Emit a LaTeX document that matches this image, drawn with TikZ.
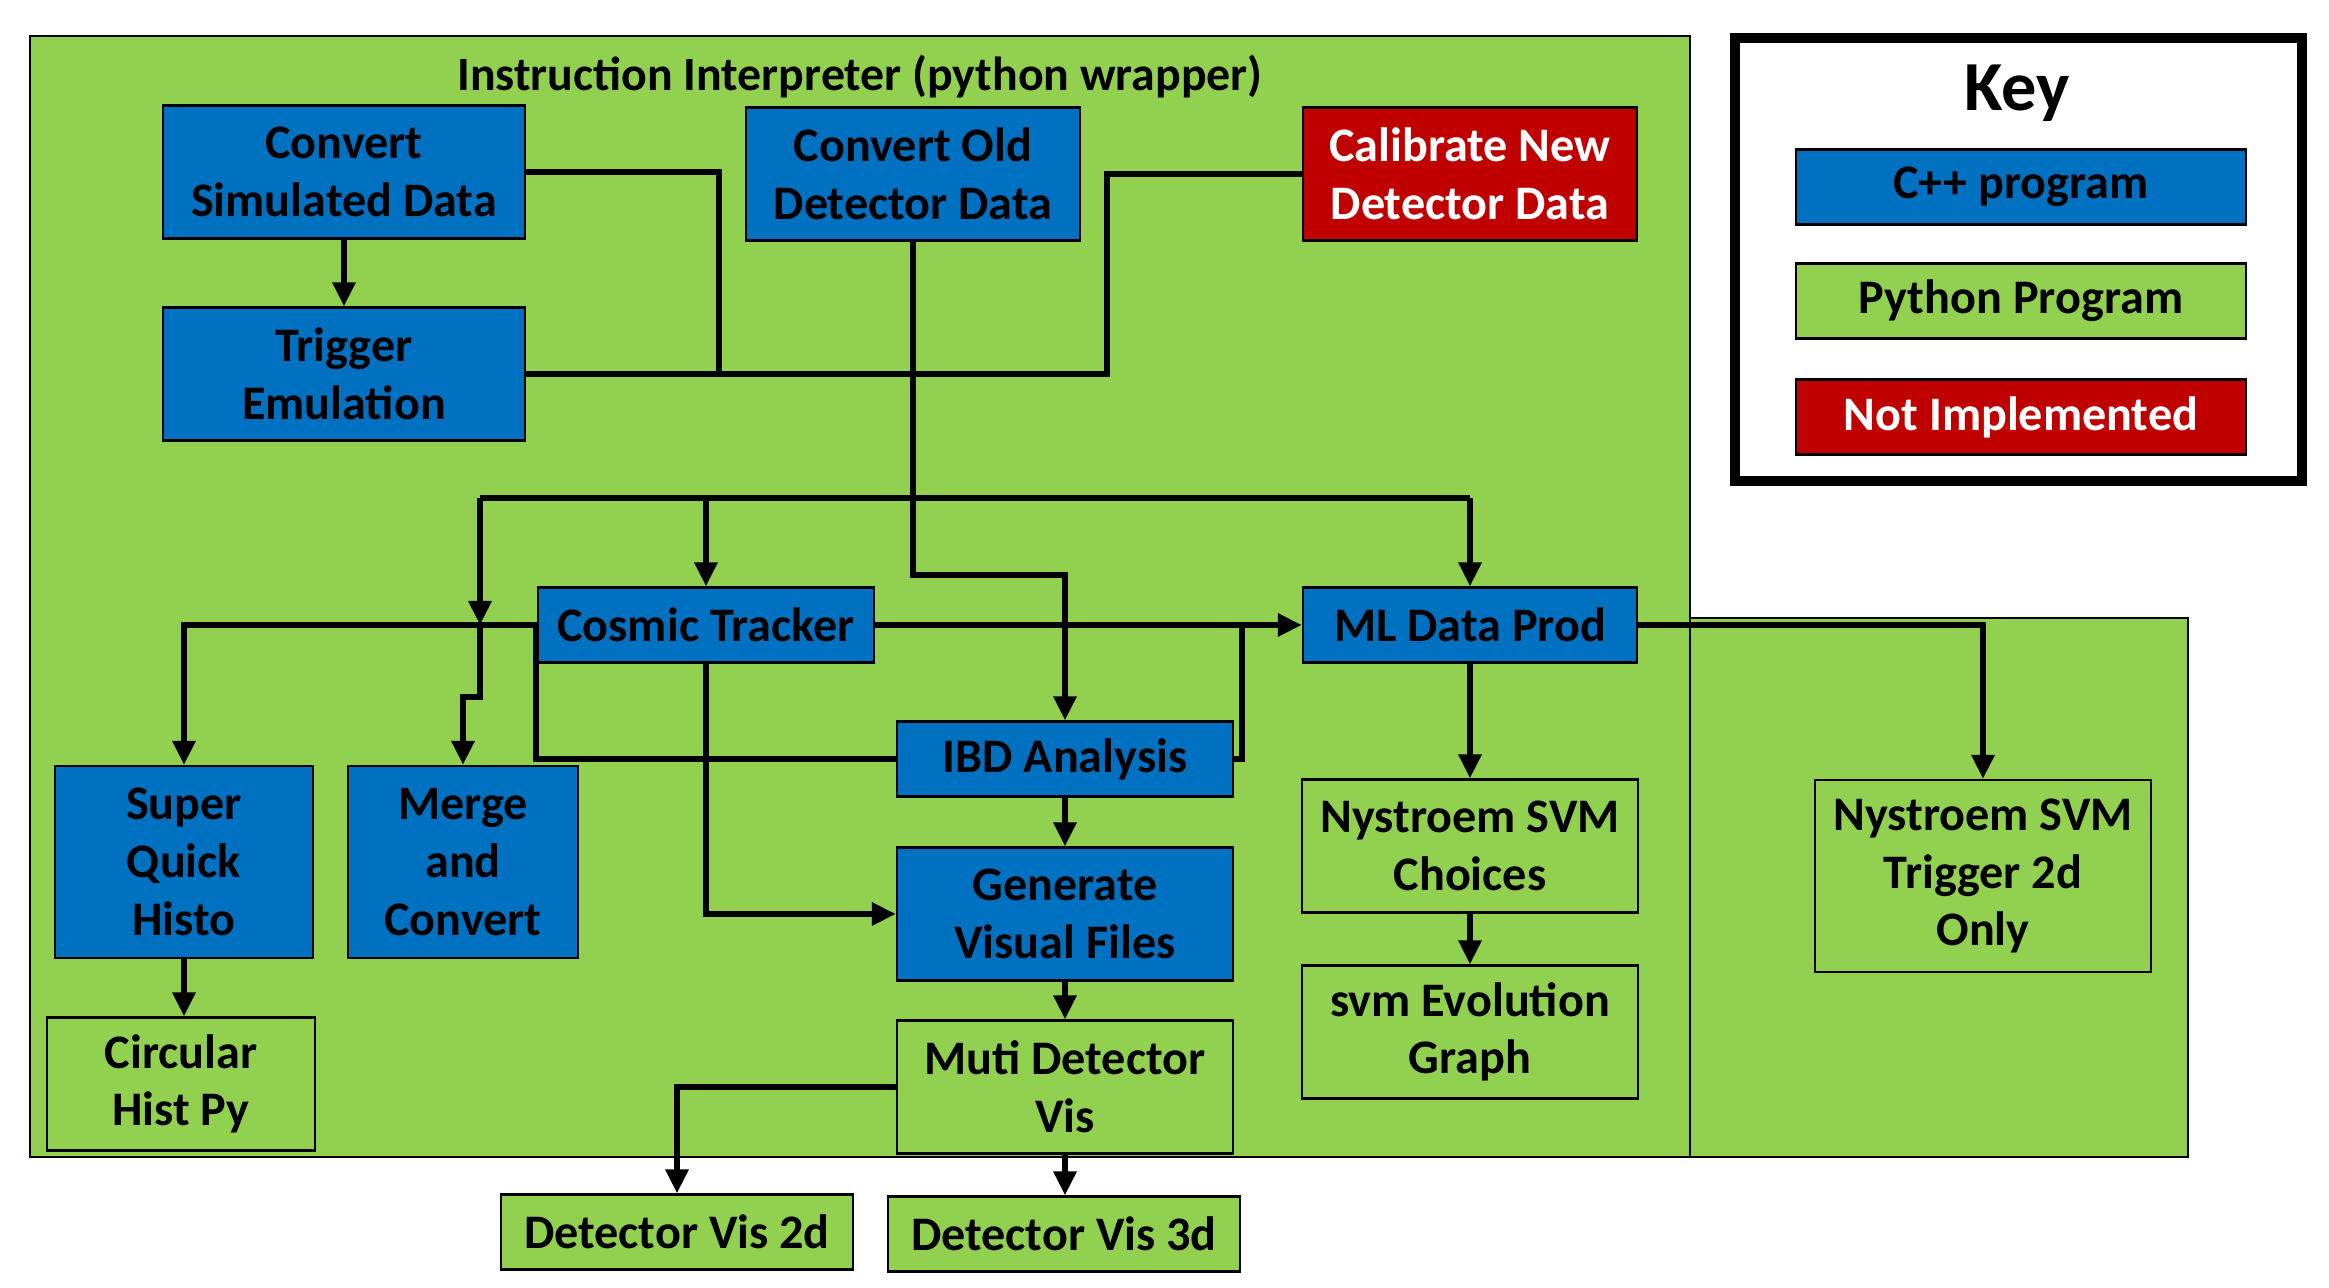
\documentclass[tikz,border=0pt]{standalone}
\usepackage{fontspec}
\setmainfont{Carlito}
\usetikzlibrary{arrows.meta}

\definecolor{cppblue}{HTML}{0070C0}
\definecolor{pygreen}{HTML}{92D050}
\definecolor{todored}{HTML}{C00000}

\newcommand{\BoxWidth}{3.36cm}
\newcommand{\BoxHeight}{1.33cm}
\newcommand{\SlimHeight}{0.75cm}
\newcommand{\TallHeight}{1.92cm}

\tikzset{
  prog/.style={draw=black, line width=0.6pt, align=center, inner sep=0pt,
    font=\fontsize{13.7}{16.4}\selectfont\bfseries,
    minimum width=\BoxWidth, minimum height=\BoxHeight},
  cpp/.style={prog, fill=cppblue},
  py/.style={prog, fill=pygreen},
  todo/.style={prog, fill=todored, text=white},
  wire/.style={line width=1.8pt},
  flow/.style={wire, -{Triangle[length=0.24cm,width=0.22cm]}},
}

\begin{document}
\begin{tikzpicture}[x=0.01cm, y=-0.01cm]
  \useasboundingbox (0,0) rectangle (2329,1288);

  % backgrounds
  \draw[fill=pygreen, line width=0.7pt] (1690,618) rectangle (2188,1157);
  \draw[fill=pygreen, line width=0.7pt] (30,36) rectangle (1690,1157);
  \node[font=\fontsize{13.6}{16}\selectfont\bfseries] (title) at (860,77) {Instruction Interpreter (python wrapper)};

  % key
  \draw[line width=2.9pt, fill=white] (1735,38) rectangle (2302,481);
  \node[font=\fontsize{20}{24}\selectfont\bfseries] (keytitle) at (2017,93) {Key};
  \node[cpp, minimum width=4.5cm, minimum height=\SlimHeight] (keycpp) at (2021,187) {C++ program};
  \node[py, minimum width=4.5cm, minimum height=\SlimHeight] (keypy) at (2021,301) {Python Program};
  \node[todo, minimum width=4.5cm, minimum height=\SlimHeight] (keytodo) at (2021,417) {Not Implemented};

  % programs
  \node[cpp, minimum width=3.61cm] (convsim) at (344,172) {Convert\\Simulated Data};
  \node[cpp, minimum width=3.61cm] (trigger) at (344,374) {Trigger\\Emulation};
  \node[cpp, minimum width=3.34cm] (convold) at (913,174) {Convert Old\\Detector Data};
  \node[todo, minimum width=3.34cm] (calib) at (1470,174) {Calibrate New\\Detector Data};

  \node[cpp, minimum height=\SlimHeight] (cosmic) at (706,625) {Cosmic Tracker};
  \node[cpp, minimum width=3.34cm, minimum height=\SlimHeight] (mlprod) at (1470,625) {ML Data Prod};
  \node[cpp, minimum height=\SlimHeight] (ibd) at (1065,759) {IBD Analysis};

  \node[cpp, minimum width=2.58cm, minimum height=\TallHeight] (superq) at (184,862) {Super\\Quick\\Histo};
  \node[cpp, minimum width=2.29cm, minimum height=\TallHeight] (merge) at (463,862) {Merge\\and\\Convert};
  \node[cpp] (genvis) at (1065,914) {Generate\\Visual Files};

  \node[py, minimum width=2.67cm] (circ) at (181,1084) {Circular\\Hist Py};
  \node[py] (mdvis) at (1065,1087) {Muti Detector\\Vis};
  \node[py, minimum width=3.52cm, minimum height=\SlimHeight] (dvtwo) at (677,1232) {Detector Vis 2d};
  \node[py, minimum width=3.52cm, minimum height=\SlimHeight] (dvthree) at (1064,1234) {Detector Vis 3d};

  \node[py] (svmchoice) at (1470,846) {Nystroem SVM\\Choices};
  \node[py] (svmevo) at (1470,1032) {svm Evolution\\Graph};
  \node[py, minimum height=\TallHeight] (svmtrig) at (1983,876) {Nystroem SVM\\Trigger 2d\\Only};

  % input side
  \coordinate (simjoin) at (719,374);
  \coordinate (triggerturn) at (1107,374);
  \coordinate (oldturn) at (913,575);
  \coordinate (busL) at (480,498);
  \coordinate (busR) at (1470,498);
  \coordinate (mergedrop) at (480,625);
  \coordinate (mergejog) at (480,697);
  \coordinate (ibdleft) at (536,625);
  \coordinate (ibdright) at (1242,625);

  \draw[flow] (convsim) -- (trigger);
  \draw[wire] (convsim.east) -| (simjoin);
  \draw[wire] (trigger.east) -- (triggerturn) |- (calib.west);
  \draw[flow] (convold.south) -- (oldturn) -| (ibd.north);

  % bus to the analysis programs
  \draw[wire] (busL) -- (busR);
  \draw[flow] (busR) -- (mlprod.north);
  \draw[flow] (cosmic.north |- busL) -- (cosmic.north);
  \draw[flow] (busL) -- (mergedrop);
  \draw[flow] (mergedrop) -- (mergejog) -| (merge.north);

  % cosmic tracker and ibd
  \draw[flow] (cosmic.west) -| (superq.north);
  \draw[flow] (cosmic.east) -- (mlprod.west);
  \draw[flow] (cosmic.south) |- (genvis.west);
  \draw[wire] (ibd.west) -| (ibdleft);
  \draw[wire] (ibd.east) -| (ibdright);
  \draw[flow] (ibd) -- (genvis);

  % outputs
  \draw[flow] (genvis) -- (mdvis);
  \draw[flow] (mdvis.west) -| (dvtwo.north);
  \draw[flow] (mdvis.south) -- (mdvis.south |- dvthree.north);
  \draw[flow] (superq.south) -- (superq.south |- circ.north);
  \draw[flow] (mlprod) -- (svmchoice);
  \draw[flow] (svmchoice) -- (svmevo);
  \draw[flow] (mlprod.east) -| (svmtrig.north);

\end{tikzpicture}
\end{document}
